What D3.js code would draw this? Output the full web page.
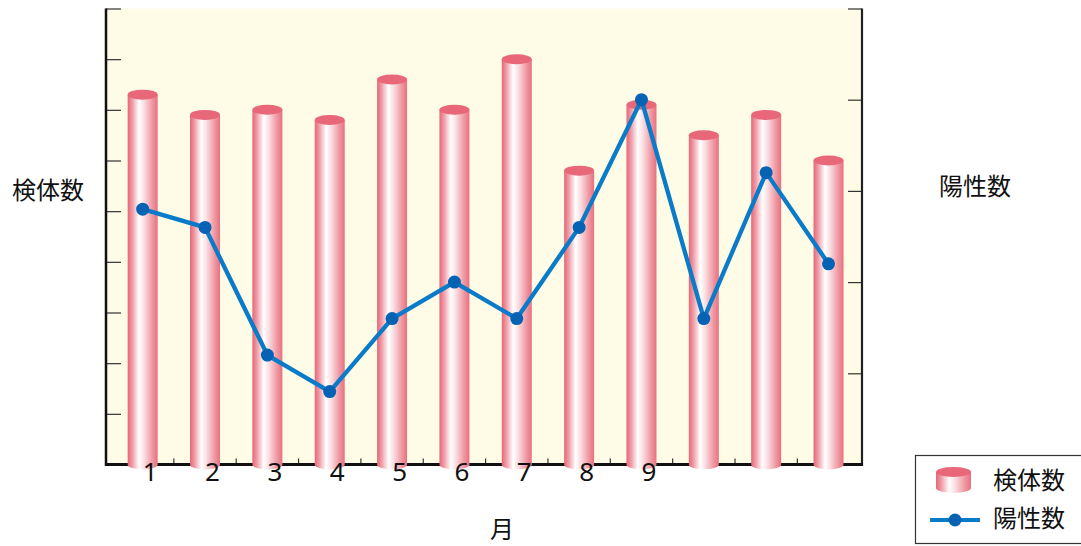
<!DOCTYPE html>
<html>
<head>
<meta charset="utf-8">
<script src="https://cdn.jsdelivr.net/npm/d3@7/dist/d3.min.js"></script>
<style>
  html, body { margin: 0; padding: 0; background: #ffffff; }
  svg { display: block; font-family: "Noto Sans CJK JP", "Noto Sans", sans-serif; }
</style>
</head>
<body>
<svg id="chart" width="1081" height="546"></svg>
<script>
// Monthly specimen counts (bars, left axis) and positives (line, right axis)
const months = [1, 2, 3, 4, 5, 6, 7, 8, 9, 10, 11, 12];
const monthLabels = ["1", "2", "3", "4", "5", "6", "7", "8", "9", "", "", ""];
const specimens = [365, 345, 350, 340, 380, 350, 400, 290, 355, 325, 345, 300];
const positives = [28, 26, 12, 8, 16, 20, 16, 26, 40, 16, 32, 22];
const leftTicks = [0, 50, 100, 150, 200, 250, 300, 350, 400, 450];
const rightTicks = [0, 10, 20, 30, 40, 50];

const svg = d3.select("#chart");
const plot = { left: 106, right: 862, top: 8.5, bottom: 464.5 };

const x = d3.scalePoint().domain(months).range([111.5, 859.7]).padding(0.5);
const yL = d3.scaleLinear().domain([0, 450]).range([plot.bottom, plot.top]);
const yR = d3.scaleLinear().domain([0, 50]).range([plot.bottom, plot.top]);

const barW = 30, ry = 5;

// Cylinder shading
const defs = svg.append("defs");
const grad = defs.append("linearGradient").attr("id", "cyl").attr("x1", 0).attr("x2", 1).attr("y1", 0).attr("y2", 0);
[[0, "#e66677"], [0.14, "#ee97a2"], [0.38, "#ffffff"], [0.55, "#fadde1"], [0.82, "#ef98a2"], [1, "#e8707f"]]
  .forEach(([o, c]) => grad.append("stop").attr("offset", o).attr("stop-color", c));

// Plot background
svg.append("rect")
  .attr("x", plot.left).attr("y", plot.top)
  .attr("width", plot.right - plot.left).attr("height", plot.bottom - plot.top)
  .attr("fill", "#fefce6");

// Left axis (ticks pointing inward)
const axL = svg.append("g").attr("transform", `translate(${plot.left},0)`)
  .call(d3.axisRight(yL).tickValues(leftTicks).tickSize(15).tickFormat(""));
axL.select(".domain").remove();
axL.selectAll(".tick line").attr("stroke", "#333").attr("stroke-width", 1.2);

// Right axis (ticks pointing inward)
const axR = svg.append("g").attr("transform", `translate(${plot.right},0)`)
  .call(d3.axisLeft(yR).tickValues(rightTicks).tickSize(14).tickFormat(""));
axR.select(".domain").remove();
axR.selectAll(".tick line").attr("stroke", "#333").attr("stroke-width", 1.2);

// Bottom ticks between months
const step = x.step();
svg.append("g").selectAll("line")
  .data(months.slice(0, -1))
  .join("line")
  .attr("x1", d => x(d) + step / 2).attr("x2", d => x(d) + step / 2)
  .attr("y1", plot.bottom - 6).attr("y2", plot.bottom)
  .attr("stroke", "#333").attr("stroke-width", 1.2);

// Axis lines
svg.append("line").attr("x1", plot.left).attr("x2", plot.left)
  .attr("y1", plot.top).attr("y2", plot.bottom + 1.5).attr("stroke", "#111").attr("stroke-width", 2.5);
svg.append("line").attr("x1", plot.right).attr("x2", plot.right)
  .attr("y1", plot.top).attr("y2", plot.bottom + 1.5).attr("stroke", "#222").attr("stroke-width", 2.2);
svg.append("line").attr("x1", plot.left - 1).attr("x2", plot.right + 1)
  .attr("y1", plot.bottom).attr("y2", plot.bottom).attr("stroke", "#111").attr("stroke-width", 3);

// Cylinders
function cylinderPath(cx, yTop, yBot, w, r) {
  const x0 = cx - w / 2, x1 = cx + w / 2;
  return `M${x0},${yTop} L${x0},${yBot} A${w / 2},${r} 0 0 0 ${x1},${yBot} L${x1},${yTop} Z`;
}
const bars = svg.append("g");
bars.selectAll("path")
  .data(months.map((m, i) => ({ m, v: specimens[i] })))
  .join("path")
  .attr("d", d => cylinderPath(x(d.m), yL(d.v), yL(0), barW, ry))
  .attr("fill", "url(#cyl)");
bars.selectAll("ellipse")
  .data(months.map((m, i) => ({ m, v: specimens[i] })))
  .join("ellipse")
  .attr("cx", d => x(d.m)).attr("cy", d => yL(d.v))
  .attr("rx", barW / 2).attr("ry", ry)
  .attr("fill", "#e8687a");

// Positives line
const pts = months.map((m, i) => ({ m, v: positives[i] }));
svg.append("path")
  .datum(pts)
  .attr("d", d3.line().x(d => x(d.m)).y(d => yR(d.v)))
  .attr("fill", "none").attr("stroke", "#0a7bc8").attr("stroke-width", 4.3)
  .attr("stroke-linejoin", "round");
svg.append("g").selectAll("circle")
  .data(pts)
  .join("circle")
  .attr("cx", d => x(d.m)).attr("cy", d => yR(d.v)).attr("r", 6.5)
  .attr("fill", "#0663b4");

// Month labels
svg.append("g").selectAll("text")
  .data(months.map((m, i) => ({ m, t: monthLabels[i] })))
  .join("text")
  .attr("x", d => x(d.m) + 7.5).attr("y", 481)
  .attr("text-anchor", "middle")
  .attr("font-family", "'Noto Sans', 'DejaVu Sans', sans-serif")
  .attr("font-size", 26).attr("fill", "#111")
  .text(d => d.t);

// Axis titles
svg.append("text").attr("x", 48).attr("y", 199).attr("text-anchor", "middle")
  .attr("font-size", 24).attr("fill", "#111").text("検体数");
svg.append("text").attr("x", 975).attr("y", 195).attr("text-anchor", "middle")
  .attr("font-size", 24).attr("fill", "#111").text("陽性数");
svg.append("text").attr("x", 502).attr("y", 538).attr("text-anchor", "middle")
  .attr("font-size", 24).attr("fill", "#111").text("月");

// Legend
const lg = svg.append("g");
lg.append("rect").attr("x", 915.5).attr("y", 455.5).attr("width", 170).attr("height", 88)
  .attr("fill", "#fff").attr("stroke", "#333").attr("stroke-width", 1.2);
lg.append("path").attr("d", cylinderPath(953.5, 472, 488, 35, 5)).attr("fill", "url(#cyl)");
lg.append("ellipse").attr("cx", 953.5).attr("cy", 472).attr("rx", 17.5).attr("ry", 5).attr("fill", "#e8687a");
lg.append("line").attr("x1", 930).attr("x2", 980).attr("y1", 520).attr("y2", 520)
  .attr("stroke", "#0a7bc8").attr("stroke-width", 4);
lg.append("circle").attr("cx", 955).attr("cy", 520).attr("r", 6.5).attr("fill", "#0663b4");
lg.append("text").attr("x", 993).attr("y", 489).attr("font-size", 24).attr("fill", "#111").text("検体数");
lg.append("text").attr("x", 993).attr("y", 527).attr("font-size", 24).attr("fill", "#111").text("陽性数");
</script>
</body>
</html>
